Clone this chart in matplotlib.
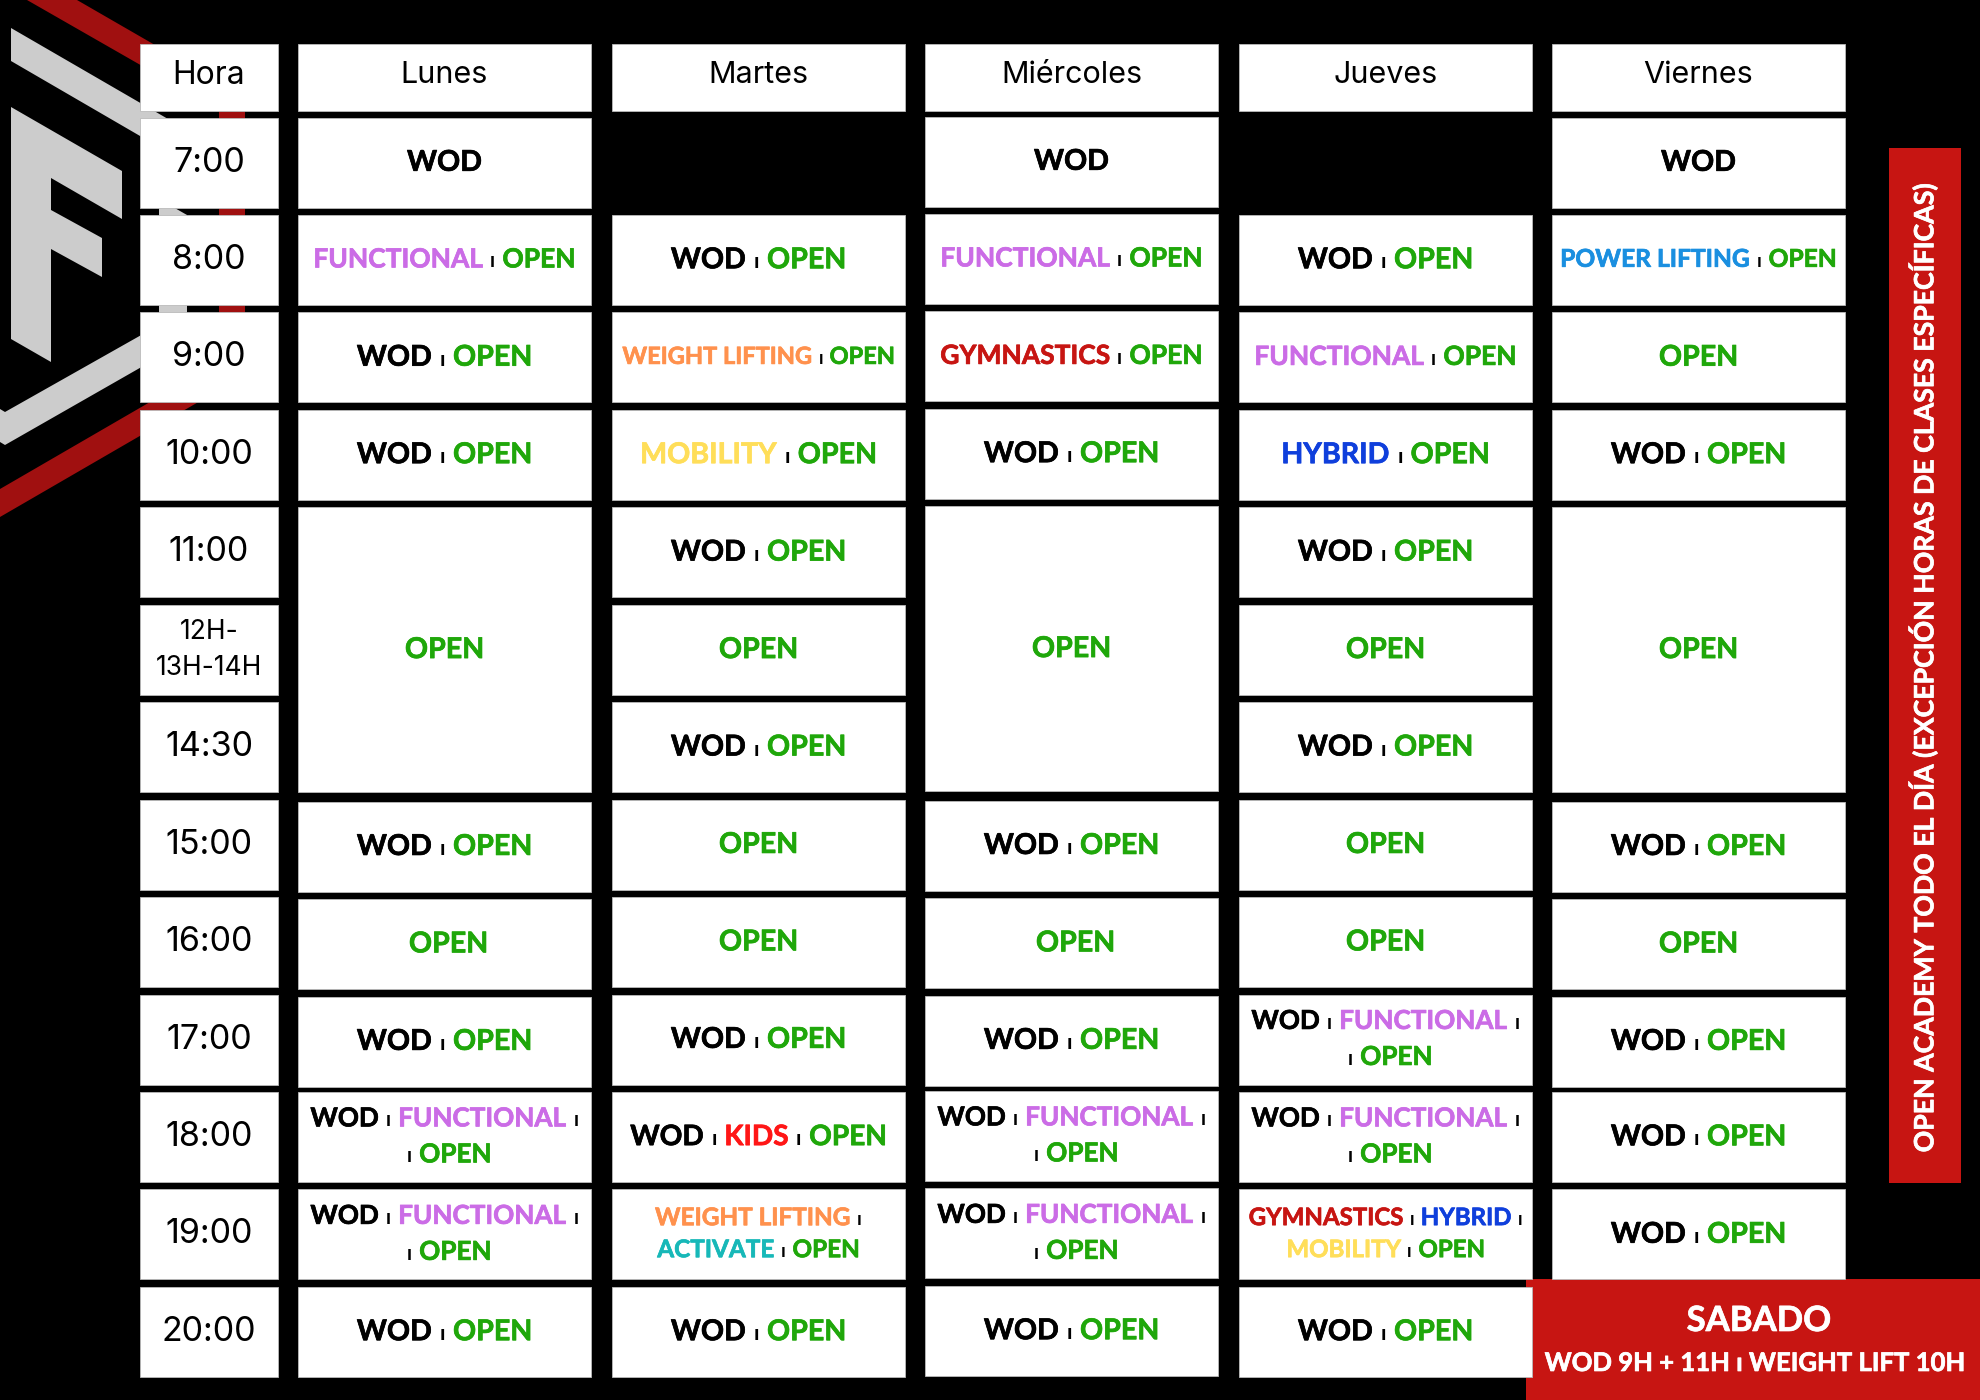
import re
import matplotlib
matplotlib.use('Agg')
import matplotlib.pyplot as plt
import matplotlib.patheffects as pe
from matplotlib.patches import Polygon, Rectangle

# horario
hours = ['7:00', '8:00', '9:00', '10:00', '11:00', '12H-\n13H-14H', '14:30', '15:00',
         '16:00', '17:00', '18:00', '19:00', '20:00']
days = ['Lunes', 'Martes', 'Miércoles', 'Jueves', 'Viernes']

F3 = 'WOD | FUNCTIONAL |\n| OPEN'
WO = 'WOD | OPEN'

# (texto, filas que ocupa)
lunes = [('WOD', 1), ('FUNCTIONAL | OPEN', 1), (WO, 1), (WO, 1), ('OPEN', 3), (WO, 1), ('OPEN', 1),
         (WO, 1), (F3, 1), (F3, 1), (WO, 1)]
martes = [(None, 1), (WO, 1), ('WEIGHT LIFTING | OPEN', 1), ('MOBILITY | OPEN', 1), (WO, 1), ('OPEN', 1),
          (WO, 1), ('OPEN', 1), ('OPEN', 1), (WO, 1), ('WOD | KIDS | OPEN', 1),
          ('WEIGHT LIFTING |\nACTIVATE | OPEN', 1), (WO, 1)]
miercoles = [('WOD', 1), ('FUNCTIONAL | OPEN', 1), ('GYMNASTICS | OPEN', 1), (WO, 1), ('OPEN', 3), (WO, 1),
             ('OPEN', 1), (WO, 1), (F3, 1), (F3, 1), (WO, 1)]
jueves = [(None, 1), (WO, 1), ('FUNCTIONAL | OPEN', 1), ('HYBRID | OPEN', 1), (WO, 1), ('OPEN', 1), (WO, 1),
          ('OPEN', 1), ('OPEN', 1), (F3, 1), (F3, 1), ('GYMNASTICS | HYBRID |\nMOBILITY | OPEN', 1), (WO, 1)]
viernes = [('WOD', 1), ('POWER LIFTING | OPEN', 1), ('OPEN', 1), (WO, 1), ('OPEN', 3), (WO, 1), ('OPEN', 1),
           (WO, 1), (WO, 1), (WO, 1), (None, 1)]
schedule = [lunes, martes, miercoles, jueves, viernes]

colors = {'WOD': '#000000', 'OPEN': '#1fa70a', 'FUNCTIONAL': '#cb6ce6', 'POWER LIFTING': '#1a8fe0',
          'WEIGHT LIFTING': '#ff914d', 'GYMNASTICS': '#c71512', 'MOBILITY': '#ffde59', 'HYBRID': '#0f3fdc',
          'KIDS': '#ff1616', 'ACTIVATE': '#17b8b8', '|': '#000000'}
sizes = {'POWER LIFTING | OPEN': 17.7, 'WEIGHT LIFTING | OPEN': 17, 'WEIGHT LIFTING |\nACTIVATE | OPEN': 17.5,
         'GYMNASTICS | HYBRID |\nMOBILITY | OPEN': 17.3, 'FUNCTIONAL | OPEN': 19, F3: 18.8,
         'GYMNASTICS | OPEN': 19, 'WOD | KIDS | OPEN': 20.2}

FONT_B = 'Lato'
FONT_L = 'Inter'

fig = plt.figure(figsize=(19.8, 14), dpi=100, facecolor='black')
ax = fig.add_axes([0, 0, 1, 1])
ax.set_xlim(0, 1980)
ax.set_ylim(1400, 0)
ax.axis('off')

# logo
red_band = [(27, 0), (77, 0), (245, 97), (245, 375), (0, 517), (0, 489), (219, 362), (219, 110)]
grey1 = [(11, 28), (187, 130), (159, 147), (11, 61)]
grey2 = [(0, 409), (5, 412), (159, 325), (159, 199), (187, 215), (187, 341), (5, 445), (0, 442)]
logo_f = [(11, 107), (122, 171), (122, 219), (51, 178), (51, 210), (102, 238), (102, 277), (51, 249),
          (51, 362), (11, 339)]
ax.add_patch(Polygon(red_band, fc='#a01010', ec='none'))
for p in (grey1, grey2, logo_f):
    ax.add_patch(Polygon(p, fc='#cccccc', ec='none'))

# cajas rojas
ax.add_patch(Rectangle((1526, 1279), 454, 121, fc='#c71512', ec='none'))
ax.add_patch(Rectangle((1889, 148), 72, 1035, fc='#c71512', ec='none'))

col_x = [298, 612, 925, 1239, 1552]
col_w = 293
day_dy = [0, 0, -1, 0, 0]
late_dy = [2, 0, 2, 0, 2]
row_top = 117.5
row_step = 97.45
row_h = 90


def box(x, y, w, h):
    ax.add_patch(Rectangle((x, y), w, h, fc='white', ec='#bbbbbb', lw=0.6))


def draw_runs(cx, base, line, size):
    parts = [t.strip() for t in re.split(r'(\|)', line) if t.strip()]
    r = fig.canvas.get_renderer()
    arts = []
    for t in parts:
        if t == '|':
            a = ax.text(0, base, 'ı', fontsize=size * 0.75, family=FONT_B, weight='bold', color=colors[t], va='baseline')
        else:
            a = ax.text(0, base, t, fontsize=size, family=FONT_B, weight='bold', color=colors[t], va='baseline')
            a.set_path_effects([pe.withStroke(linewidth=0.5, foreground=colors[t])])
        arts.append(a)
    gap = size * 0.38
    widths = [a.get_window_extent(r).width for a in arts]
    x = cx - (sum(widths) + gap * (len(arts) - 1)) / 2
    for a, w in zip(arts, widths):
        a.set_x(x)
        x += w + gap


def draw_cell(cx, cy, label):
    size = sizes.get(label, 20.6)
    lines = label.split('\n')
    cap = size * 1.389 * 0.72
    lead = 36 if label == F3 else 32
    top = cy - 2 - lead * (len(lines) - 1) / 2
    for i, line in enumerate(lines):
        dx = 5 if line.startswith('|') else 0
        draw_runs(cx + dx, top + i * lead + cap / 2, line, size)


# cabecera
box(140, 44, 138, 67)
ax.text(209, 75, 'Hora', ha='center', va='center', fontsize=23, family=FONT_L, weight='regular', color='black')
for x, d in zip(col_x, days):
    box(x, 44, col_w, 67)
    ax.text(x + col_w / 2, 75, d, ha='center', va='center', fontsize=22, family=FONT_L, weight='regular', color='black')

# horas
for i, h in enumerate(hours):
    y = row_top + i * row_step
    box(140, y, 138, row_h)
    fs = 19 if '\n' in h else 24.5
    ax.text(209, y + row_h / 2, h, ha='center', va='center', fontsize=fs, family=FONT_L, weight='regular',
            color='black', linespacing=1.5)

# celdas
for c, col in enumerate(schedule):
    r = 0
    for label, span in col:
        y = row_top + r * row_step + day_dy[c]
        if 7 <= r <= 9:
            y += late_dy[c]
        h = row_h + (span - 1) * row_step
        if label is not None:
            box(col_x[c], y, col_w, h)
            dx = 4 if (r == 8 and c in (0, 2)) else 0
            draw_cell(col_x[c] + col_w / 2 + dx, y + h / 2, label)
        r += span

# texto lateral y sabado
ax.text(1923, 669, 'OPEN ACADEMY TODO EL DÍA (EXCEPCIÓN HORAS DE CLASES ESPECÍFICAS)', rotation=90, ha='center',
        va='center', fontsize=19.2, family=FONT_B, weight='bold', color='white',
        path_effects=[pe.withStroke(linewidth=0.5, foreground='white')])
ax.text(1759, 1321, 'SABADO', ha='center', va='center', fontsize=25, family=FONT_B, weight='bold', color='white',
        path_effects=[pe.withStroke(linewidth=0.5, foreground='white')])
ax.text(1756, 1363, 'WOD 9H + 11H ı WEIGHT LIFT 10H', ha='center', va='center', fontsize=18.5, family=FONT_B,
        weight='bold', color='white', path_effects=[pe.withStroke(linewidth=0.5, foreground='white')])

fig.savefig('out.png', dpi=100, facecolor='black')
